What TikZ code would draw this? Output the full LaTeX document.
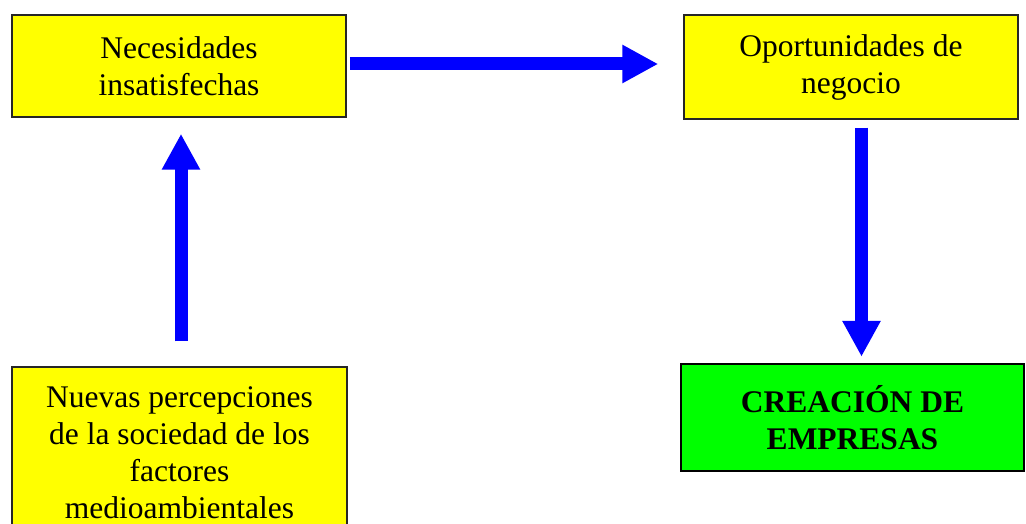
\documentclass[tikz,border=0pt]{standalone}
\usepackage{fontspec}
\setmainfont{Liberation Serif}
\usetikzlibrary{arrows.meta}
\definecolor{boxyellow}{HTML}{FFFF00}
\definecolor{boxgreen}{HTML}{00FF00}
\definecolor{arrowblue}{HTML}{0000FF}
\begin{document}
\begin{tikzpicture}[x=1pt,y=-1pt,
  ybox/.style={draw=black!85, line width=1.5pt, fill=boxyellow, rectangle, align=center,
    inner sep=0pt, font=\fontsize{31.5}{37}\selectfont},
  gbox/.style={draw=black, line width=2.5pt, fill=boxgreen, rectangle, align=center,
    inner sep=0pt, font=\fontsize{31.5}{37}\selectfont\bfseries},
  bigarrow/.style={draw=arrowblue, line width=13pt,
    -{Triangle[width=36pt,length=36pt,color=arrowblue]}}]
\clip (0,0) rectangle (1026,524);
\fill[white] (0,0) rectangle (1026,524);
\node[ybox, minimum width=334pt, minimum height=102pt] (n1) at (179,66)
  {Necesidades\\insatisfechas};
\node[ybox, minimum width=334pt, minimum height=104pt] (n2) at (851,67)
  {Oportunidades de\\negocio};
\node[ybox, minimum width=335pt, minimum height=172pt] (n3) at (179.5,453)
  {Nuevas percepciones\\de la sociedad de los\\factores\\medioambientales};
\node[gbox, minimum width=343pt, minimum height=107pt] (n4) at (852.5,417.5)
  {CREACIÓN DE\\EMPRESAS};
\draw[bigarrow, shorten <=3pt, shorten >=25pt] (n1.east |- 0,64) -- (n2.west |- 0,64);
\draw[bigarrow, shorten <=25pt, shorten >=16pt] (n3.north -| 181,0) -- (n1.south -| 181,0);
\draw[bigarrow, shorten <=8pt, shorten >=6pt] (n2.south -| 861.5,0) -- (n4.north -| 861.5,0);
\end{tikzpicture}
\end{document}
